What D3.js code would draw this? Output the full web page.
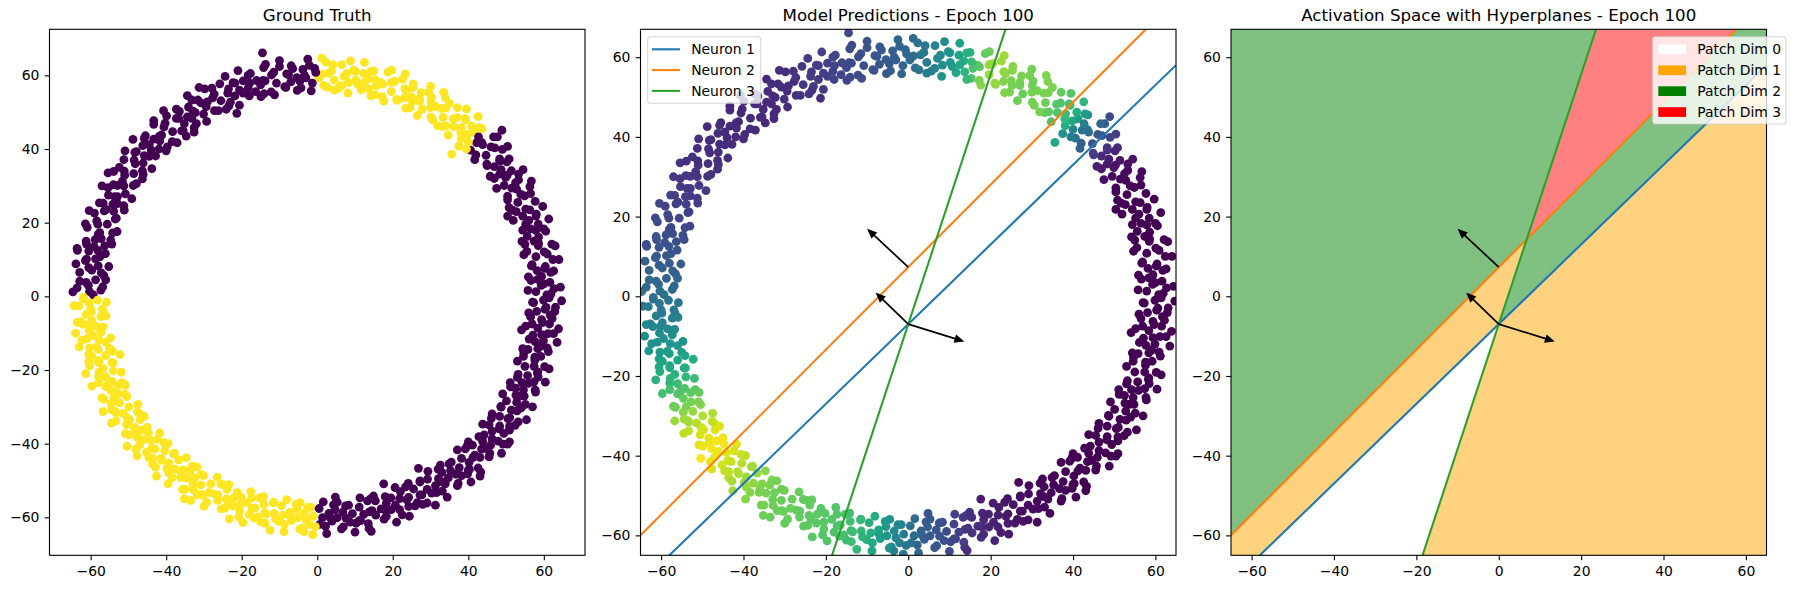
<!DOCTYPE html>
<html><head><meta charset="utf-8">
<script src="https://cdn.jsdelivr.net/npm/d3@7"></script>
<style>body{margin:0;background:#fff}</style>
</head><body><svg id="c" width="1796" height="589"></svg>
<script>
// ---------------- data ----------------
const panelTitles = ["Ground Truth", "Model Predictions - Epoch 100", "Activation Space with Hyperplanes - Epoch 100"];
const tickValues = [-60, -40, -20, 0, 20, 40, 60];
const classColors = ["#440154", "#fde725"];
const neuronNames = ["Neuron 1", "Neuron 2", "Neuron 3"];
const neuronColors = ["#1f77b4", "#ff7f0e", "#2ca02c"];
const neuronWeights = [[-1, 1], [-1.035, 1], [3.135, -1]];
const neuronBiases = [7, -7.3, -7];
const arrowLengths = [11.2, 13.9, 14.3];
const patchNames = ["Patch Dim 0", "Patch Dim 1", "Patch Dim 2", "Patch Dim 3"];
const patchColors = ["#ffffff", "#ffa500", "#008000", "#ff0000"];
// samples: [x, y, groundTruthLabel, modelPrediction]
const samples = [
[61.9,0.7,0,0],[55.8,1.6,0,0],[64.4,2.5,0,0],[60.0,3.4,0,0],[56.6,4.3,0,0],
[55.9,5.3,0,0],[62.6,6.9,0,0],[60.2,7.6,0,0],[56.7,8.3,0,0],[64.0,10.0,0,0],
[60.9,11.5,0,0],[54.7,11.3,0,0],[63.0,13.7,0,0],[58.5,13.8,0,0],[55.0,14.1,0,0],
[54.2,14.9,0,0],[60.5,17.7,0,0],[57.9,17.9,0,0],[54.4,18.0,0,0],[61.3,21.0,0,0],
[57.9,21.8,0,0],[51.9,20.6,0,0],[59.7,24.4,0,0],[55.2,23.7,0,0],[51.7,23.4,0,0.01],
[50.8,24.1,0,0.01],[56.5,27.9,0,0.01],[53.9,27.7,0,0.02],[50.4,27.2,0,0.01],[56.7,31.3,0,0.02],
[53.3,31.6,0,0.03],[47.5,29.3,0,0.04],[54.5,34.4,0,0.05],[50.3,32.9,0,0.05],[46.9,32.0,0,0.06],
[45.8,32.6,0,0.09],[50.8,37.3,0,0.11],[48.3,36.7,0,0.14],[45.0,35.5,0,0.16],[50.4,40.7,0,0.19],
[47.0,40.3,0,0.26],[41.7,37.1,0,0.3],[47.7,43.3,0,0.29],[43.8,41.2,0,0.34],[40.6,39.7,0,0.37],
[39.5,40.0,1,0.43],[43.6,45.5,1,0.5],[41.2,44.5,1,0.56],[38.1,42.8,1,0.62],[42.6,48.8,1,0.65],
[39.3,47.9,1,0.69],[34.7,43.8,1,0.71],[39.5,50.9,1,0.73],[36.0,48.2,1,0.74],[33.1,46.1,1,0.76],
[31.9,46.3,1,0.79],[35.0,52.4,1,0.8],[32.9,51.0,1,0.8],[30.1,48.7,1,0.79],[33.5,55.4,1,0.81],
[30.3,54.0,1,0.78],[26.5,49.1,1,0.78],[30.0,57.0,1,0.79],[27.1,53.7,1,0.79],[24.6,51.2,1,0.8],
[23.4,51.1,1,0.81],[25.4,57.7,1,0.82],[23.6,55.9,1,0.83],[21.2,53.2,1,0.84],[23.3,60.4,1,0.85],
[20.5,58.4,1,0.86],[17.6,53.0,1,0.82],[19.7,61.4,1,0.78],[17.3,57.6,1,0.75],[15.3,54.7,1,0.73],
[14.2,54.4,1,0.67],[15.0,61.2,1,0.64],[13.5,59.1,1,0.61],[11.6,56.1,1,0.59],[12.5,63.5,1,0.57],
[10.1,61.1,1,0.52],[8.1,55.2,1,0.5],[8.8,63.9,1,0.48],[7.1,59.7,1,0.46],[5.6,56.5,1,0.44],
[4.5,56.0,1,0.41],[4.1,62.9,1,0.39],[3.0,60.6,1,0.38],[1.7,57.3,1,0.36],[1.2,64.7,1,0.34],
[-0.7,61.9,0,0.33],[-1.6,55.8,0,0.32],[-2.5,64.4,0,0.31],[-3.4,60.0,0,0.3],[-4.3,56.6,0,0.29],
[-5.3,55.9,0,0.28],[-6.9,62.6,0,0.27],[-7.6,60.2,0,0.26],[-8.3,56.7,0,0.26],[-10.0,64.0,0,0.25],
[-11.5,60.9,0,0.24],[-11.3,54.7,0,0.23],[-13.7,63.0,0,0.23],[-13.8,58.5,0,0.22],[-14.1,55.0,0,0.22],
[-14.9,54.2,0,0.21],[-17.7,60.5,0,0.2],[-17.9,57.9,0,0.2],[-18.0,54.4,0,0.19],[-21.0,61.3,0,0.19],
[-21.8,57.9,0,0.18],[-20.6,51.9,0,0.17],[-24.4,59.7,0,0.17],[-23.7,55.2,0,0.16],[-23.4,51.7,0,0.16],
[-24.1,50.8,0,0.15],[-27.9,56.5,0,0.15],[-27.7,53.9,0,0.14],[-27.2,50.4,0,0.14],[-31.3,56.7,0,0.14],
[-31.6,53.3,0,0.13],[-29.3,47.5,0,0.13],[-34.4,54.5,0,0.12],[-32.9,50.3,0,0.12],[-32.0,46.9,0,0.12],
[-32.6,45.8,0,0.12],[-37.3,50.8,0,0.12],[-36.7,48.3,0,0.12],[-35.5,45.0,0,0.12],[-40.7,50.4,0,0.12],
[-40.3,47.0,0,0.12],[-37.1,41.7,0,0.12],[-43.3,47.7,0,0.12],[-41.2,43.8,0,0.12],[-39.7,40.6,0,0.12],
[-40.0,39.5,0,0.12],[-45.5,43.6,0,0.12],[-44.5,41.2,0,0.12],[-42.8,38.1,0,0.12],[-48.8,42.6,0,0.12],
[-47.9,39.3,0,0.13],[-43.8,34.7,0,0.13],[-50.9,39.5,0,0.14],[-48.2,36.0,0,0.13],[-46.1,33.1,0,0.14],
[-46.3,31.9,0,0.14],[-52.4,35.0,0,0.15],[-51.0,32.9,0,0.15],[-48.7,30.1,0,0.15],[-55.4,33.5,0,0.15],
[-54.0,30.3,0,0.16],[-49.1,26.5,0,0.17],[-57.0,30.0,0,0.16],[-53.7,27.1,0,0.17],[-51.2,24.6,0,0.17],
[-51.1,23.4,0,0.18],[-57.7,25.4,0,0.19],[-55.9,23.6,0,0.19],[-53.2,21.2,0,0.2],[-60.4,23.3,0,0.2],
[-58.4,20.5,0,0.21],[-53.0,17.6,0,0.21],[-61.4,19.7,0,0.22],[-57.6,17.3,0,0.22],[-54.7,15.3,0,0.23],
[-54.4,14.2,0,0.24],[-61.2,15.0,0,0.25],[-59.1,13.5,0,0.25],[-56.1,11.6,0,0.26],[-63.5,12.5,0,0.27],
[-61.1,10.1,0,0.28],[-55.2,8.1,0,0.29],[-63.9,8.8,0,0.3],[-59.7,7.1,0,0.3],[-56.5,5.6,0,0.31],
[-56.0,4.5,0,0.32],[-62.9,4.1,0,0.33],[-60.6,3.0,0,0.34],[-57.3,1.7,0,0.35],[-64.7,1.2,0,0.36],
[-61.9,-0.7,1,0.37],[-55.8,-1.6,1,0.38],[-64.4,-2.5,1,0.39],[-60.0,-3.4,1,0.4],[-56.6,-4.3,1,0.41],
[-55.9,-5.3,1,0.43],[-62.6,-6.9,1,0.45],[-60.2,-7.6,1,0.46],[-56.7,-8.3,1,0.47],[-64.0,-10.0,1,0.49],
[-60.9,-11.5,1,0.5],[-54.7,-11.3,1,0.51],[-63.0,-13.7,1,0.53],[-58.5,-13.8,1,0.55],[-55.0,-14.1,1,0.56],
[-54.2,-14.9,1,0.58],[-60.5,-17.7,1,0.6],[-57.9,-17.9,1,0.61],[-54.4,-18.0,1,0.62],[-61.3,-21.0,1,0.64],
[-57.9,-21.8,1,0.66],[-51.9,-20.6,1,0.68],[-59.7,-24.4,1,0.7],[-55.2,-23.7,1,0.72],[-51.7,-23.4,1,0.74],
[-50.8,-24.1,1,0.76],[-56.5,-27.9,1,0.78],[-53.9,-27.7,1,0.8],[-50.4,-27.2,1,0.82],[-56.7,-31.3,1,0.84],
[-53.3,-31.6,1,0.86],[-47.5,-29.3,1,0.88],[-54.5,-34.4,1,0.9],[-50.3,-32.9,1,0.92],[-46.9,-32.0,1,0.93],
[-45.8,-32.6,1,0.95],[-50.8,-37.3,1,0.96],[-48.3,-36.7,1,0.97],[-45.0,-35.5,1,0.98],[-50.4,-40.7,1,0.99],
[-47.0,-40.3,1,0.97],[-41.7,-37.1,1,0.95],[-47.7,-43.3,1,0.94],[-43.8,-41.2,1,0.93],[-40.6,-39.7,1,0.92],
[-39.5,-40.0,1,0.9],[-43.6,-45.5,1,0.89],[-41.2,-44.5,1,0.88],[-38.1,-42.8,1,0.87],[-42.6,-48.8,1,0.86],
[-39.3,-47.9,1,0.84],[-34.7,-43.8,1,0.83],[-39.5,-50.9,1,0.82],[-36.0,-48.2,1,0.81],[-33.1,-46.1,1,0.8],
[-31.9,-46.3,1,0.79],[-35.0,-52.4,1,0.79],[-32.9,-51.0,1,0.78],[-30.1,-48.7,1,0.78],[-33.5,-55.4,1,0.77],
[-30.3,-54.0,1,0.77],[-26.5,-49.1,1,0.77],[-30.0,-57.0,1,0.76],[-27.1,-53.7,1,0.76],[-24.6,-51.2,1,0.76],
[-23.4,-51.1,1,0.76],[-25.4,-57.7,1,0.75],[-23.6,-55.9,1,0.75],[-21.2,-53.2,1,0.74],[-23.3,-60.4,1,0.74],
[-20.5,-58.4,1,0.74],[-17.6,-53.0,1,0.73],[-19.7,-61.4,1,0.73],[-17.3,-57.6,1,0.72],[-15.3,-54.7,1,0.72],
[-14.2,-54.4,1,0.7],[-15.0,-61.2,1,0.69],[-13.5,-59.1,1,0.68],[-11.6,-56.1,1,0.67],[-12.5,-63.5,1,0.66],
[-10.1,-61.1,1,0.63],[-8.1,-55.2,1,0.61],[-8.8,-63.9,1,0.59],[-7.1,-59.7,1,0.57],[-5.6,-56.5,1,0.55],
[-4.5,-56.0,1,0.52],[-4.1,-62.9,1,0.49],[-3.0,-60.6,1,0.46],[-1.7,-57.3,1,0.43],[-1.2,-64.7,1,0.4],
[0.7,-61.9,0,0.37],[1.6,-55.8,0,0.35],[2.5,-64.4,0,0.33],[3.4,-60.0,0,0.31],[4.3,-56.6,0,0.29],
[5.3,-55.9,0,0.28],[6.9,-62.6,0,0.26],[7.6,-60.2,0,0.25],[8.3,-56.7,0,0.24],[10.0,-64.0,0,0.22],
[11.5,-60.9,0,0.21],[11.3,-54.7,0,0.19],[13.7,-63.0,0,0.18],[13.8,-58.5,0,0.17],[14.1,-55.0,0,0.15],
[14.9,-54.2,0,0.14],[17.7,-60.5,0,0.13],[17.9,-57.9,0,0.12],[18.0,-54.4,0,0.11],[21.0,-61.3,0,0.1],
[21.8,-57.9,0,0.09],[20.6,-51.9,0,0.08],[24.4,-59.7,0,0.07],[23.7,-55.2,0,0.07],[23.4,-51.7,0,0.06],
[24.1,-50.8,0,0.05],[27.9,-56.5,0,0.05],[27.7,-53.9,0,0.04],[27.2,-50.4,0,0.04],[31.3,-56.7,0,0.03],
[31.6,-53.3,0,0.03],[29.3,-47.5,0,0.02],[34.4,-54.5,0,0.02],[32.9,-50.3,0,0.02],[32.0,-46.9,0,0.02],
[32.6,-45.8,0,0.01],[37.3,-50.8,0,0.01],[36.7,-48.3,0,0.01],[35.5,-45.0,0,0.01],[40.7,-50.4,0,0.01],
[40.3,-47.0,0,0],[37.1,-41.7,0,0],[43.3,-47.7,0,0],[41.2,-43.8,0,0],[39.7,-40.6,0,0],
[40.0,-39.5,0,0],[45.5,-43.6,0,0],[44.5,-41.2,0,0],[42.8,-38.1,0,0],[48.8,-42.6,0,0],
[47.9,-39.3,0,0],[43.8,-34.7,0,0],[50.9,-39.5,0,0],[48.2,-36.0,0,0],[46.1,-33.1,0,0],
[46.3,-31.9,0,0],[52.4,-35.0,0,0],[51.0,-32.9,0,0],[48.7,-30.1,0,0],[55.4,-33.5,0,0],
[54.0,-30.3,0,0],[49.1,-26.5,0,0],[57.0,-30.0,0,0],[53.7,-27.1,0,0],[51.2,-24.6,0,0],
[51.1,-23.4,0,0],[57.7,-25.4,0,0],[55.9,-23.6,0,0],[53.2,-21.2,0,0],[60.4,-23.3,0,0],
[58.4,-20.5,0,0],[53.0,-17.6,0,0],[61.4,-19.7,0,0],[57.6,-17.3,0,0],[54.7,-15.3,0,0],
[54.4,-14.2,0,0],[61.2,-15.0,0,0],[59.1,-13.5,0,0],[56.1,-11.6,0,0],[63.5,-12.5,0,0],
[61.1,-10.1,0,0],[55.2,-8.1,0,0],[63.9,-8.8,0,0],[59.7,-7.1,0,0],[56.5,-5.6,0,0],
[56.0,-4.5,0,0],[62.9,-4.1,0,0],[60.6,-3.0,0,0],[57.3,-1.7,0,0],[64.7,-1.2,0,0],
[60.8,0.4,0,0],[57.9,1.3,0,0],[62.7,2.1,0,0],[59.3,3.0,0,0],[61.6,3.8,0,0],[58.4,4.6,0,0],
[59.4,5.4,0,0],[61.8,6.5,0,0],[58.2,7.0,0,0],[60.4,8.1,0,0],[56.9,8.6,0,0],[62.4,10.0,0,0],
[57.9,10.8,0,0],[60.1,12.1,0,0],[55.5,12.2,0,0],[62.1,14.2,0,0],[58.6,14.4,0,0],[57.4,15.0,0,0],
[58.6,16.1,0,0],[55.6,16.3,0,0],[60.0,18.3,0,0],[56.5,18.3,0,0],[58.5,19.6,0,0],[55.2,19.6,0,0],
[56.0,20.6,0,0],[58.0,22.3,0,0],[54.4,21.8,0,0],[56.3,23.5,0,0],[52.7,23.0,0,0],[57.7,25.8,0,0.01],
[53.1,25.5,0,0.01],[54.9,27.3,0,0.01],[50.4,26.2,0,0.01],[56.3,29.8,0,0.02],[52.8,29.1,0,0.02],[51.5,29.4,0,0.02],
[52.5,30.8,0,0.03],[49.5,30.1,0,0.03],[53.3,33.2,0,0.04],[49.9,32.3,0,0.05],[51.4,34.1,0,0.06],[48.3,33.2,0,0.07],
[48.7,34.4,0,0.08],[50.2,36.5,0,0.1],[46.9,35.2,0,0.12],[48.3,37.3,0,0.15],[44.9,35.9,0,0.18],[49.0,39.9,0,0.2],
[44.7,38.3,0,0.25],[46.0,40.6,0,0.28],[42.0,38.4,0,0.3],[46.7,43.3,0,0.33],[43.5,41.8,0,0.36],[42.2,41.7,0,0.38],
[42.7,43.3,0,0.42],[40.0,41.9,1,0.47],[42.9,45.8,1,0.55],[39.8,44.0,1,0.6],[40.9,46.2,1,0.62],[38.0,44.5,1,0.66],
[38.2,45.8,1,0.68],[39.1,48.3,1,0.7],[36.2,46.1,1,0.72],[37.0,48.5,1,0.73],[34.1,46.3,1,0.75],[37.1,51.2,1,0.76],
[33.3,48.6,1,0.78],[34.0,51.1,1,0.8],[30.6,47.9,1,0.79],[33.9,53.9,1,0.81],[31.3,51.6,1,0.8],[30.0,51.2,1,0.79],
[30.1,52.9,1,0.78],[27.8,50.8,1,0.77],[29.5,55.4,1,0.79],[27.1,52.9,1,0.78],[27.5,55.3,1,0.8],[25.2,52.9,1,0.79],
[25.0,54.1,1,0.8],[25.3,56.7,1,0.82],[23.1,53.9,1,0.81],[23.2,56.4,1,0.83],[21.0,53.5,1,0.84],[22.6,59.0,1,0.85],
[19.6,55.6,1,0.85],[19.6,58.1,1,0.84],[17.2,54.2,1,0.8],[18.7,60.9,1,0.76],[16.8,58.0,1,0.74],[15.7,57.2,1,0.72],
[15.4,58.8,1,0.68],[13.7,56.3,1,0.65],[14.2,61.1,1,0.63],[12.5,58.1,1,0.6],[12.3,60.5,1,0.58],[10.7,57.6,1,0.56],
[10.2,58.7,1,0.53],[9.7,61.4,1,0.51],[8.3,58.0,1,0.49],[7.8,60.5,1,0.47],[6.4,57.2,1,0.45],[6.5,62.9,1,0.44],
[4.5,58.7,1,0.42],[3.8,61.2,1,0.4],[2.6,56.8,1,0.39],[2.3,63.6,1,0.37],[1.3,60.3,1,0.35],[0.4,59.3,1,0.34],
[-0.4,60.8,0,0.33],[-1.3,57.9,0,0.32],[-2.1,62.7,0,0.31],[-3.0,59.3,0,0.3],[-3.8,61.6,0,0.29],[-4.6,58.4,0,0.28],
[-5.4,59.4,0,0.28],[-6.5,61.8,0,0.27],[-7.0,58.2,0,0.27],[-8.1,60.4,0,0.26],[-8.6,56.9,0,0.25],[-10.0,62.4,0,0.25],
[-10.8,57.9,0,0.24],[-12.1,60.1,0,0.24],[-12.2,55.5,0,0.23],[-14.2,62.1,0,0.23],[-14.4,58.6,0,0.22],[-15.0,57.4,0,0.22],
[-16.1,58.6,0,0.21],[-16.3,55.6,0,0.21],[-18.3,60.0,0,0.2],[-18.3,56.5,0,0.2],[-19.6,58.5,0,0.19],[-19.6,55.2,0,0.19],
[-20.6,56.0,0,0.18],[-22.3,58.0,0,0.18],[-21.8,54.4,0,0.17],[-23.5,56.3,0,0.17],[-23.0,52.7,0,0.16],[-25.8,57.7,0,0.16],
[-25.5,53.1,0,0.16],[-27.3,54.9,0,0.15],[-26.2,50.4,0,0.15],[-29.8,56.3,0,0.14],[-29.1,52.8,0,0.14],[-29.4,51.5,0,0.14],
[-30.8,52.5,0,0.13],[-30.1,49.5,0,0.13],[-33.2,53.3,0,0.13],[-32.3,49.9,0,0.12],[-34.1,51.4,0,0.13],[-33.2,48.3,0,0.12],
[-34.4,48.7,0,0.12],[-36.5,50.2,0,0.12],[-35.2,46.9,0,0.12],[-37.3,48.3,0,0.12],[-35.9,44.9,0,0.12],[-39.9,49.0,0,0.12],
[-38.3,44.7,0,0.12],[-40.6,46.0,0,0.11],[-38.4,42.0,0,0.12],[-43.3,46.7,0,0.12],[-41.8,43.5,0,0.11],[-41.7,42.2,0,0.12],
[-43.3,42.7,0,0.12],[-41.9,40.0,0,0.12],[-45.8,42.9,0,0.13],[-44.0,39.8,0,0.12],[-46.2,40.9,0,0.13],[-44.5,38.0,0,0.12],
[-45.8,38.2,0,0.13],[-48.3,39.1,0,0.13],[-46.1,36.2,0,0.13],[-48.5,37.0,0,0.14],[-46.3,34.1,0,0.14],[-51.2,37.1,0,0.13],
[-48.6,33.3,0,0.14],[-51.1,34.0,0,0.14],[-47.9,30.6,0,0.15],[-53.9,33.9,0,0.14],[-51.6,31.3,0,0.15],[-51.2,30.0,0,0.15],
[-52.9,30.1,0,0.16],[-50.8,27.8,0,0.16],[-55.4,29.5,0,0.16],[-52.9,27.1,0,0.17],[-55.3,27.5,0,0.17],[-52.9,25.2,0,0.17],
[-54.1,25.0,0,0.18],[-56.7,25.3,0,0.18],[-53.9,23.1,0,0.19],[-56.4,23.2,0,0.19],[-53.5,21.0,0,0.19],[-59.0,22.6,0,0.2],
[-55.6,19.6,0,0.2],[-58.1,19.6,0,0.21],[-54.2,17.2,0,0.21],[-60.9,18.7,0,0.22],[-58.0,16.8,0,0.22],[-57.2,15.7,0,0.23],
[-58.8,15.4,0,0.24],[-56.3,13.7,0,0.24],[-61.1,14.2,0,0.25],[-58.1,12.5,0,0.26],[-60.5,12.3,0,0.26],[-57.6,10.7,0,0.27],
[-58.7,10.2,0,0.28],[-61.4,9.7,0,0.28],[-58.0,8.3,0,0.29],[-60.5,7.8,0,0.3],[-57.2,6.4,0,0.3],[-62.9,6.5,0,0.31],
[-58.7,4.5,0,0.32],[-61.2,3.8,0,0.33],[-56.8,2.6,0,0.33],[-63.6,2.3,0,0.34],[-60.3,1.3,0,0.35],[-59.3,0.4,0,0.36],
[-61.9,-0.3,1,0.37],[-58.2,-1.0,1,0.38],[-60.4,-1.8,1,0.39],[-63.1,-2.6,1,0.4],[-56.9,-3.4,1,0.4],[-59.8,-4.2,1,0.41],[-61.2,-4.9,1,0.42],
[-57.3,-5.5,1,0.43],[-59.7,-6.6,1,0.44],[-62.0,-7.6,1,0.46],[-58.4,-8.2,1,0.47],[-60.4,-9.2,1,0.48],[-57.3,-9.7,1,0.49],
[-59.4,-10.6,1,0.5],[-62.3,-11.9,1,0.51],[-57.8,-11.9,1,0.52],[-56.0,-12.4,1,0.53],[-60.3,-14.0,1,0.55],[-58.0,-14.4,1,0.56],[-60.5,-15.7,1,0.57],
[-59.7,-16.3,1,0.58],[-56.0,-16.0,1,0.59],[-57.9,-17.4,1,0.6],[-60.3,-18.9,1,0.61],[-54.1,-18.0,1,0.62],[-56.7,-19.6,1,0.63],[-57.8,-20.6,1,0.65],
[-54.0,-20.2,1,0.66],[-56.0,-21.9,1,0.68],[-57.9,-23.4,1,0.7],[-54.3,-23.1,1,0.72],[-56.0,-24.5,1,0.73],[-52.8,-24.2,1,0.75],
[-54.6,-25.6,1,0.76],[-57.0,-27.6,1,0.78],[-52.7,-26.5,1,0.79],[-50.9,-26.5,1,0.8],[-54.6,-29.1,1,0.82],[-52.3,-28.9,1,0.84],[-54.4,-30.8,1,0.85],
[-53.5,-31.2,1,0.86],[-49.9,-30.0,1,0.88],[-51.4,-31.8,1,0.89],[-53.3,-33.8,1,0.9],[-47.6,-31.4,1,0.91],[-49.7,-33.5,1,0.93],[-50.5,-34.8,1,0.94],
[-46.9,-33.5,1,0.95],[-48.4,-35.6,1,0.96],[-49.8,-37.6,1,0.97],[-46.5,-36.3,1,0.98],[-47.7,-38.2,1,0.98],[-44.7,-37.1,1,0.99],
[-46.1,-38.9,1,0.97],[-48.0,-41.5,1,0.96],[-44.1,-39.2,1,0.95],[-42.3,-38.8,1,0.94],[-45.2,-42.3,1,0.93],[-43.0,-41.5,1,0.92],[-44.6,-43.8,1,0.91],
[-43.6,-44.0,1,0.9],[-40.4,-41.9,1,0.89],[-41.4,-44.0,1,0.88],[-42.8,-46.4,1,0.87],[-37.8,-42.6,1,0.86],[-39.3,-45.3,1,0.85],[-39.8,-46.7,1,0.85],
[-36.7,-44.4,1,0.84],[-37.6,-46.9,1,0.83],[-38.4,-49.2,1,0.82],[-35.5,-47.1,1,0.81],[-36.2,-49.2,1,0.8],[-33.6,-47.4,1,0.8],
[-34.5,-49.4,1,0.79],[-35.7,-52.4,1,0.79],[-32.5,-49.3,1,0.78],[-30.8,-48.4,1,0.78],[-32.8,-52.5,1,0.78],[-30.8,-51.2,1,0.77],[-31.8,-53.8,1,0.77],
[-30.7,-53.8,1,0.77],[-28.2,-50.9,1,0.77],[-28.6,-53.2,1,0.77],[-29.3,-55.9,1,0.76],[-25.5,-51.0,1,0.76],[-26.3,-53.9,1,0.76],[-26.4,-55.4,1,0.76],
[-23.9,-52.4,1,0.76],[-24.1,-55.0,1,0.75],[-24.4,-57.5,1,0.75],[-22.1,-54.7,1,0.75],[-22.3,-56.9,1,0.74],[-20.2,-54.5,1,0.74],
[-20.5,-56.7,1,0.74],[-20.8,-59.9,1,0.73],[-18.6,-56.0,1,0.73],[-17.3,-54.7,1,0.73],[-18.0,-59.2,1,0.72],[-16.5,-57.4,1,0.72],[-16.7,-60.2,1,0.71],
[-15.7,-59.9,1,0.7],[-14.1,-56.5,1,0.7],[-13.9,-58.8,1,0.69],[-13.8,-61.6,1,0.68],[-11.5,-55.9,1,0.67],[-11.4,-58.9,1,0.66],[-11.1,-60.4,1,0.65],
[-9.5,-56.8,1,0.63],[-9.1,-59.4,1,0.62],[-8.7,-61.9,1,0.6],[-7.2,-58.6,1,0.58],[-6.8,-60.8,1,0.56],[-5.4,-57.8,1,0.54],
[-5.2,-60.1,1,0.52],[-4.6,-63.2,1,0.5],[-3.4,-58.9,1,0.47],[-2.5,-57.3,1,0.45],[-2.1,-61.9,1,0.43],[-1.1,-59.7,1,0.41],[-0.5,-62.5,1,0.39],
[0.5,-57.6,0,0.37],[1.4,-60.1,0,0.35],[2.2,-62.4,0,0.33],[3.1,-58.9,0,0.32],[3.9,-61.0,0,0.3],[4.7,-57.9,0,0.29],
[5.3,-60.1,0,0.28],[6.4,-63.1,0,0.27],[6.8,-58.6,0,0.26],[7.5,-56.9,0,0.25],[8.7,-61.3,0,0.24],[9.3,-59.0,0,0.23],[10.3,-61.6,0,0.22],
[11.1,-60.9,0,0.21],[11.1,-57.2,0,0.2],[12.3,-59.2,0,0.19],[13.5,-61.7,0,0.18],[13.3,-55.5,0,0.17],[14.5,-58.2,0,0.16],[15.5,-59.4,0,0.15],
[15.4,-55.5,0,0.14],[16.9,-57.7,0,0.13],[18.3,-59.7,0,0.12],[18.3,-56.1,0,0.11],[19.6,-57.9,0,0.1],[19.5,-54.7,0,0.1],
[20.7,-56.7,0,0.09],[22.5,-59.3,0,0.08],[21.8,-54.9,0,0.08],[22.0,-53.0,0,0.07],[24.2,-57.0,0,0.07],[24.2,-54.6,0,0.06],[25.9,-56.9,0,0.06],
[26.5,-56.0,0,0.05],[25.5,-52.3,0,0.05],[27.2,-53.9,0,0.04],[29.1,-56.1,0,0.04],[27.2,-50.1,0,0.04],[29.1,-52.4,0,0.03],[30.3,-53.4,0,0.03],
[29.2,-49.6,0,0.03],[31.3,-51.4,0,0.02],[33.1,-52.9,0,0.02],[32.1,-49.5,0,0.02],[33.9,-50.9,0,0.02],[33.0,-47.8,0,0.02],
[34.7,-49.3,0,0.01],[37.1,-51.4,0,0.01],[35.3,-47.3,0,0.01],[34.9,-45.5,0,0.01],[38.2,-48.7,0,0.01],[37.6,-46.5,0,0.01],[39.8,-48.2,0,0.01],
[40.0,-47.2,0,0],[38.2,-44.0,0,0],[40.2,-45.1,0,0],[42.6,-46.6,0,0],[39.2,-41.4,0,0],[41.7,-43.1,0,0],[43.1,-43.7,0,0],
[41.1,-40.4,0,0],[43.5,-41.5,0,0],[45.7,-42.6,0,0],[43.8,-39.4,0,0],[45.9,-40.4,0,0],[44.2,-37.6,0,0],
[46.3,-38.7,0,0],[49.2,-40.1,0,0],[46.3,-36.6,0,0],[45.5,-34.9,0,0],[49.4,-37.2,0,0],[48.3,-35.2,0,0],[50.9,-36.3,0,0],
[50.9,-35.3,0,0],[48.3,-32.6,0,0],[50.5,-33.2,0,0],[53.2,-34.1,0,0],[48.6,-29.9,0,0],[51.4,-30.9,0,0],[52.9,-31.1,0,0],
[50.1,-28.4,0,0],[52.8,-28.8,0,0],[55.1,-29.3,0,0],[52.6,-26.8,0,0],[54.8,-27.1,0,0],[52.5,-24.9,0,0],
[54.6,-25.4,0,0],[57.8,-26.0,0,0],[54.2,-23.4,0,0],[53.0,-22.0,0,0],[57.4,-23.2,0,0],[55.7,-21.5,0,0],[58.5,-21.9,0,0],
[58.3,-20.9,0,0],[55.0,-19.0,0,0],[57.4,-19.0,0,0],[60.2,-19.1,0,0],[54.6,-16.3,0,0],[57.6,-16.5,0,0],[59.2,-16.3,0,0],
[55.8,-14.4,0,0],[58.4,-14.2,0,0],[60.9,-14.0,0,0],[57.7,-12.3,0,0],[59.9,-12.0,0,0],[57.1,-10.5,0,0],
[59.4,-10.4,0,0],[62.6,-10.1,0,0],[58.4,-8.6,0,0],[56.9,-7.5,0,0],[61.5,-7.5,0,0],[59.4,-6.3,0,0],[62.2,-6.0,0,0],
[61.7,-5.1,0,0],[58.1,-4.1,0,0],[60.3,-3.5,0,0],[63.1,-2.9,0,0],[57.0,-1.6,0,0],[59.9,-1.0,0,0],[61.4,-0.4,0,0],
[-14.5,66.1,0,0.22],[-21.3,49.7,0,0.13],[-34.7,43.5,0,0.12],[-32.6,44.6,0,0.12],[35.6,38.6,1,0.6],[37.5,40.8,1,0.5],
[48.9,45.1,0,0.22],[50.4,21.8,0,0],[54.1,-9.1,0,0],[50.4,-40.1,0,0],[43.1,-48.8,0,0],[26.8,-46.7,0,0.02],
[17.6,-50.9,0,0.08],[4.8,-54.5,0,0.25],[14.3,-63.8,0,0.13],[-3.5,-63.9,1,0.42],[-35.2,-55.0,1,0.78],
[-52.2,-15.8,1,0.62],[-63.6,-7.1,1,0.46],[-63.6,13.0,0,0.24]
];

// ---------------- layout ----------------
const FONT = "'DejaVu Sans', sans-serif";
const TICK_FS = 13.9, TITLE_FS = 16.67;
const plotTop = 29.3, plotBottom = 555.3;
const panels = [
  {left: 49.5,  right: 585,    xd: [-70.9, 70.9], yd: [-70.3, 72.5]},
  {left: 640.5, right: 1176,   xd: [-65, 65],     yd: [-65, 67]},
  {left: 1231,  right: 1766.5, xd: [-65, 65],     yd: [-65, 67]}
];

const svg = d3.select("#c");
svg.append("rect").attr("width", 1796).attr("height", 589).attr("fill", "#fff");
const defs = svg.append("defs");

function setupPanel(i) {
  const p = panels[i];
  const xs = d3.scaleLinear().domain(p.xd).range([p.left, p.right]);
  const ys = d3.scaleLinear().domain(p.yd).range([plotBottom, plotTop]);
  defs.append("clipPath").attr("id", "clip" + i).append("rect")
    .attr("x", p.left).attr("y", plotTop).attr("width", p.right - p.left).attr("height", plotBottom - plotTop);
  const g = svg.append("g");
  const inner = g.append("g").attr("clip-path", `url(#clip${i})`);
  return {p, xs, ys, g, inner};
}

function finishPanel(P, i) {
  const {p, xs, ys, g} = P;
  const ax = g.append("g").attr("transform", `translate(0,${plotBottom})`)
    .call(d3.axisBottom(xs).tickValues(tickValues).tickSize(4.86).tickPadding(6.4).tickSizeOuter(0));
  const ay = g.append("g").attr("transform", `translate(${p.left},0)`)
    .call(d3.axisLeft(ys).tickValues(tickValues).tickSize(4.86).tickPadding(5.2).tickSizeOuter(0));
  [ax, ay].forEach(a => {
    a.select(".domain").remove();
    a.attr("font-size", TICK_FS).attr("font-family", FONT);
    a.selectAll("line").attr("stroke", "#000").attr("stroke-width", 1.1);
    a.selectAll("text").attr("fill", "#000");
  });
  g.append("rect").attr("x", p.left).attr("y", plotTop).attr("width", p.right - p.left)
    .attr("height", plotBottom - plotTop).attr("fill", "none").attr("stroke", "#000").attr("stroke-width", 1.1);
  g.append("text").attr("x", (p.left + p.right) / 2).attr("y", 21).attr("text-anchor", "middle")
    .attr("font-family", FONT).attr("font-size", TITLE_FS).attr("fill", "#000").text(panelTitles[i]);
}

function drawScatter(P, colorFn) {
  P.inner.append("g").selectAll("circle").data(samples).join("circle")
    .attr("cx", d => P.xs(d[0])).attr("cy", d => P.ys(d[1])).attr("r", 4.4)
    .attr("fill", colorFn);
}

function lineY(i, x) {
  const w = neuronWeights[i], b = neuronBiases[i];
  return -(w[0] * x + b) / w[1];
}

function drawLines(P) {
  const xd = P.p.xd;
  neuronWeights.forEach((w, i) => {
    P.inner.append("line")
      .attr("x1", P.xs(xd[0])).attr("y1", P.ys(lineY(i, xd[0])))
      .attr("x2", P.xs(xd[1])).attr("y2", P.ys(lineY(i, xd[1])))
      .attr("stroke", neuronColors[i]).attr("stroke-width", 2.08);
  });
}

function drawArrows(P) {
  neuronWeights.forEach((w, i) => {
    const ox = 0, oy = lineY(i, 0);
    const n = Math.hypot(w[0], w[1]);
    const dx = w[0] / n * arrowLengths[i], dy = w[1] / n * arrowLengths[i];
    const x0 = P.xs(ox), y0 = P.ys(oy), x1 = P.xs(ox + dx), y1 = P.ys(oy + dy);
    const L = Math.hypot(x1 - x0, y1 - y0), ux = (x1 - x0) / L, uy = (y1 - y0) / L;
    const hl = 10, hw = 4.3;
    const bx = x1 - ux * hl, by = y1 - uy * hl;
    P.inner.append("line").attr("x1", x0).attr("y1", y0).attr("x2", bx + ux).attr("y2", by + uy)
      .attr("stroke", "#000").attr("stroke-width", 1.7);
    P.inner.append("path")
      .attr("d", `M${x1},${y1}L${bx - uy * hw},${by + ux * hw}L${bx + uy * hw},${by - ux * hw}Z`)
      .attr("fill", "#000");
  });
}

function clipHalf(poly, w, b, sign) {
  const f = q => sign * (w[0] * q[0] + w[1] * q[1] + b);
  const out = [];
  for (let k = 0; k < poly.length; k++) {
    const a = poly[k], c = poly[(k + 1) % poly.length];
    const fa = f(a), fc = f(c);
    if (fa >= 0) out.push(a);
    if ((fa >= 0) !== (fc >= 0)) {
      const t = fa / (fa - fc);
      out.push([a[0] + t * (c[0] - a[0]), a[1] + t * (c[1] - a[1])]);
    }
  }
  return out;
}

function drawRegions(P) {
  const [x0, x1] = P.p.xd, [y0, y1] = P.p.yd;
  const line = d3.line().x(d => P.xs(d[0])).y(d => P.ys(d[1]));
  const gr = P.inner.append("g");
  for (let mask = 0; mask < 8; mask++) {
    let poly = [[x0 - 1, y0 - 1], [x1 + 1, y0 - 1], [x1 + 1, y1 + 1], [x0 - 1, y1 + 1]];
    let count = 0;
    for (let i = 0; i < 3; i++) {
      const on = (mask >> i) & 1;
      count += on;
      poly = clipHalf(poly, neuronWeights[i], neuronBiases[i], on ? 1 : -1);
      if (poly.length < 3) break;
    }
    if (poly.length < 3) continue;
    const col = d3.interpolateRgb("#ffffff", patchColors[count])(0.5);
    gr.append("path").attr("d", line(poly) + "Z").attr("fill", col)
      .attr("stroke", col).attr("stroke-width", 0.6);
  }
}

function legendBox(x, y, w, h) {
  const g = svg.append("g");
  g.append("rect").attr("x", x).attr("y", y).attr("width", w).attr("height", h).attr("rx", 2.8)
    .attr("fill", "#fff").attr("fill-opacity", 0.8).attr("stroke", "#cccccc").attr("stroke-opacity", 0.8).attr("stroke-width", 1.1);
  return g;
}

// Panel 1
const P1 = setupPanel(0);
drawScatter(P1, d => classColors[d[2]]);
finishPanel(P1, 0);

// Panel 2
const P2 = setupPanel(1);
drawScatter(P2, d => d3.interpolateViridis(d[3]));
drawLines(P2);
drawArrows(P2);
finishPanel(P2, 1);
const L2 = legendBox(647.7, 36.7, 113, 66.6);
neuronNames.forEach((name, i) => {
  const cy = 49.3 + i * 20.8;
  L2.append("line").attr("x1", 652).attr("x2", 680).attr("y1", cy).attr("y2", cy)
    .attr("stroke", neuronColors[i]).attr("stroke-width", 2.08);
  L2.append("text").attr("x", 691.2).attr("y", cy).attr("dy", "0.36em")
    .attr("font-family", FONT).attr("font-size", TICK_FS).attr("fill", "#000").text(name);
});

// Panel 3
const P3 = setupPanel(2);
drawRegions(P3);
drawLines(P3);
drawArrows(P3);
finishPanel(P3, 2);
const L3 = legendBox(1652.7, 36.7, 133.3, 87.3);
patchNames.forEach((name, i) => {
  const cy = 49.3 + i * 20.9;
  L3.append("rect").attr("x", 1658.3).attr("y", cy - 4.8).attr("width", 27.8).attr("height", 9.7)
    .attr("fill", patchColors[i]);
  L3.append("text").attr("x", 1697.2).attr("y", cy).attr("dy", "0.36em")
    .attr("font-family", FONT).attr("font-size", TICK_FS).attr("fill", "#000").text(name);
});
</script>
</body></html>
